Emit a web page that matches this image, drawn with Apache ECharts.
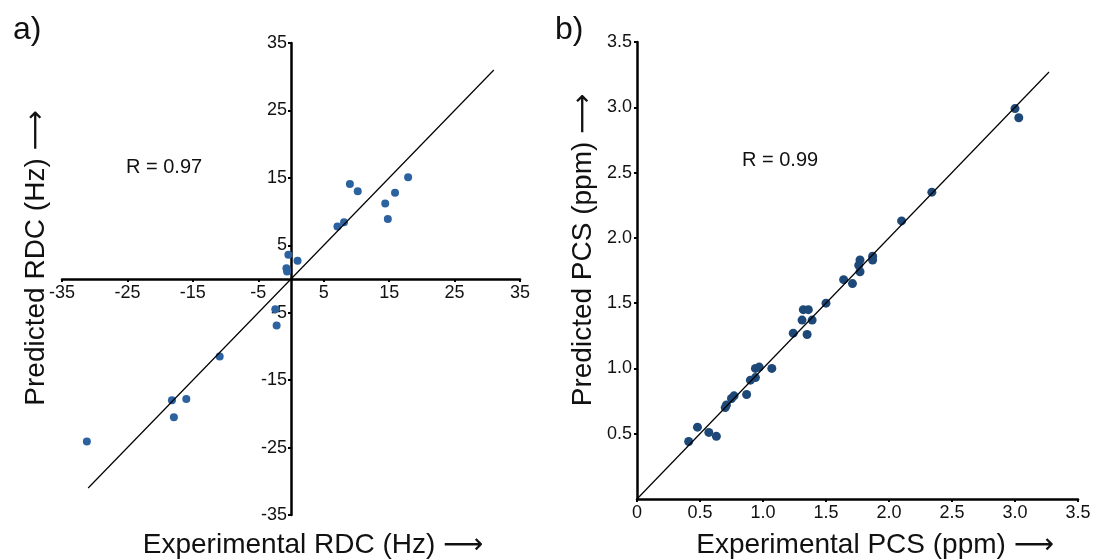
<!DOCTYPE html>
<html>
<head>
<meta charset="utf-8">
<style>
  html, body { margin: 0; padding: 0; background: #fff; }
  #chart { width: 1103px; height: 560px; }
</style>
<script src="https://cdn.jsdelivr.net/npm/echarts@6/dist/echarts.min.js"></script>
</head>
<body>
<div id="chart"></div>
<script>
// a) residual dipolar couplings: experimental vs predicted (Hz)
const rdcExperimental = [-0.4, 1.0, -0.7, -0.6, 7.1, 8.1, 9.0, 10.2, 14.4, 14.8, 15.9, 17.9,
                         -2.4, -2.2, -10.9, -18.2, -16.0, -17.9, -31.2];
const rdcPredicted    = [3.6, 2.7, 1.6, 1.1, 7.8, 8.4, 14.1, 13.0, 11.2, 8.9, 12.8, 15.1,
                         -4.5, -6.9, -11.5, -18.0, -17.8, -20.5, -24.1];
const rdcTicks = [-35, -25, -15, -5, 5, 15, 25, 35];
const rdcFitRange = [-31, 31];
const rdcR = 'R = 0.97';

// b) pseudocontact shifts: experimental vs predicted (ppm)
const pcsExperimental = [3.00, 3.03, 2.34, 2.10, 1.87, 1.87, 1.77, 1.76, 1.77, 1.64, 1.71,
                         1.50, 1.32, 1.36, 1.31, 1.39, 1.35, 1.24, 1.07, 0.97, 0.94, 0.94,
                         0.90, 0.87, 0.77, 0.75, 0.70, 0.71, 0.48, 0.57, 0.63, 0.41];
const pcsPredicted    = [2.99, 2.92, 2.35, 2.13, 1.86, 1.83, 1.83, 1.79, 1.74, 1.68, 1.65,
                         1.50, 1.45, 1.45, 1.37, 1.37, 1.26, 1.27, 1.00, 1.01, 1.00, 0.93,
                         0.91, 0.80, 0.79, 0.77, 0.70, 0.72, 0.55, 0.51, 0.48, 0.44];
const pcsFitRange = [0, 3.27];
const pcsR = 'R = 0.99';

const FONT = '"Liberation Sans", Arial, Helvetica, "DejaVu Sans", sans-serif';
const ARROW = '\u27F6';

const zip = (xs, ys) => xs.map((x, i) => [x, ys[i]]);

// left panel grid box; its axes are shifted inward so they cross at (0, 0)
const gridA = { left: 62, top: 43, width: 458, height: 472 };
const crossX = gridA.width / 2;   // pixel distance from left edge to x = 0
const crossY = gridA.height / 2;  // pixel distance from bottom edge to y = 0

const axisLineStyle = { show: true, onZero: false, lineStyle: { color: '#000', width: 2.5 } };
const tickStyle = { show: true, length: 3, lineStyle: { color: '#000', width: 2 } };
const labelStyle = { color: '#111', fontFamily: FONT, fontSize: 18 };

const chart = echarts.init(document.getElementById('chart'), null, { renderer: 'canvas' });

chart.setOption({
  backgroundColor: '#fff',
  animation: false,
  title: [
    { text: 'a)', left: 8, top: 9, textStyle: { fontFamily: FONT, fontSize: 32, fontWeight: 'normal', color: '#111' } },
    { text: 'b)', left: 550, top: 9, textStyle: { fontFamily: FONT, fontSize: 32, fontWeight: 'normal', color: '#111' } }
  ],
  grid: [
    gridA,
    { left: 637, right: 25, top: 42, bottom: 61 }
  ],
  xAxis: [
    {
      gridIndex: 0, type: 'value', min: -35, max: 35, interval: 5,
      position: 'bottom', offset: -crossY,
      axisLine: axisLineStyle,
      axisTick: Object.assign({ customValues: rdcTicks }, tickStyle),
      axisLabel: Object.assign({ customValues: rdcTicks, margin: 5 }, labelStyle),
      splitLine: { show: false }
    },
    {
      gridIndex: 1, type: 'value', min: 0, max: 3.5, interval: 0.5,
      axisLine: axisLineStyle,
      axisTick: tickStyle,
      axisLabel: Object.assign({}, labelStyle, {
        margin: 5,
        formatter: v => (v === 0 ? '0' : v.toFixed(1))
      }),
      splitLine: { show: false }
    }
  ],
  yAxis: [
    {
      gridIndex: 0, type: 'value', min: -35, max: 35, interval: 5,
      position: 'left', offset: -crossX,
      axisLine: axisLineStyle,
      axisTick: Object.assign({ customValues: rdcTicks }, tickStyle),
      axisLabel: Object.assign({ customValues: rdcTicks, margin: 4 }, labelStyle),
      splitLine: { show: false }
    },
    {
      gridIndex: 1, type: 'value', min: 0, max: 3.5, interval: 0.5,
      axisLine: axisLineStyle,
      axisTick: tickStyle,
      axisLabel: Object.assign({}, labelStyle, {
        margin: 5, showMinLabel: false,
        formatter: v => v.toFixed(1)
      }),
      splitLine: { show: false }
    }
  ],
  series: [
    {
      type: 'scatter', xAxisIndex: 0, yAxisIndex: 0,
      data: zip(rdcExperimental, rdcPredicted),
      symbolSize: 8,
      itemStyle: { color: '#2c62a0', opacity: 1 }
    },
    {
      type: 'line', xAxisIndex: 0, yAxisIndex: 0,
      data: zip(rdcFitRange, rdcFitRange),
      showSymbol: false, symbol: 'none', z: 5,
      lineStyle: { color: '#000', width: 1.2 }
    },
    {
      type: 'scatter', xAxisIndex: 1, yAxisIndex: 1,
      data: zip(pcsExperimental, pcsPredicted),
      symbolSize: 9,
      itemStyle: { color: '#1d4877', opacity: 1 }
    },
    {
      type: 'line', xAxisIndex: 1, yAxisIndex: 1,
      data: zip(pcsFitRange, pcsFitRange),
      showSymbol: false, symbol: 'none', z: 5,
      lineStyle: { color: '#000', width: 1.2 }
    }
  ],
  graphic: [
    { type: 'text', left: 126, top: 157, style: { text: rdcR, font: '20px ' + FONT, fill: '#111' } },
    { type: 'text', left: 742, top: 150, style: { text: pcsR, font: '20px ' + FONT, fill: '#111' } },
    {
      type: 'text', x: 313, y: 545,
      style: { text: 'Experimental RDC (Hz) ' + ARROW, font: '28px ' + FONT, fill: '#111',
               align: 'center', verticalAlign: 'middle' }
    },
    {
      type: 'text', x: 875, y: 545,
      style: { text: 'Experimental PCS (ppm) ' + ARROW, font: '28px ' + FONT, fill: '#111',
               align: 'center', verticalAlign: 'middle' }
    },
    {
      type: 'text', x: 36, y: 258, rotation: Math.PI / 2,
      style: { text: 'Predicted RDC (Hz) ' + ARROW, font: '28px ' + FONT, fill: '#111',
               align: 'center', verticalAlign: 'middle' }
    },
    {
      type: 'text', x: 583, y: 250, rotation: Math.PI / 2,
      style: { text: 'Predicted PCS (ppm) ' + ARROW, font: '28px ' + FONT, fill: '#111',
               align: 'center', verticalAlign: 'middle' }
    }
  ]
});
</script>
</body>
</html>
